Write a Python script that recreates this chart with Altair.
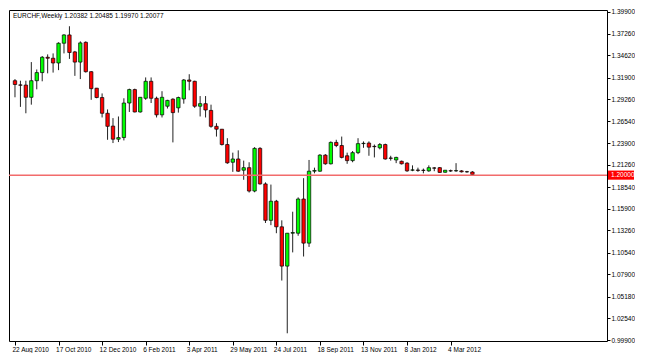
import altair as alt
import pandas as pd

title_text = "EURCHF,Weekly  1.20382 1.20485 1.19970 1.20077"

week_labels = ["22 Aug 2010", "17 Oct 2010", "12 Dec 2010", "6 Feb 2011", "3 Apr 2011",
               "29 May 2011", "24 Jul 2011", "18 Sep 2011", "13 Nov 2011", "8 Jan 2012",
               "4 Mar 2012"]

y_ticks = [1.399, 1.3726, 1.3462, 1.319, 1.2926, 1.2654, 1.239, 1.2126, 1.1854,
           1.159, 1.1326, 1.1054, 1.079, 1.0518, 1.0254, 0.999]

floor_level = 1.2
floor_label = "1.20000"

opens = [1.3151, 1.3100, 1.3098, 1.2949, 1.3151, 1.3250, 1.3437, 1.3425, 1.3367, 1.3608,
         1.3709, 1.3502, 1.3378, 1.3619, 1.3261, 1.3060, 1.2946, 1.2754, 1.2598, 1.2438,
         1.2458, 1.2879, 1.3043, 1.2770, 1.2937, 1.3144, 1.2937, 1.2735, 1.2840, 1.2926,
         1.2820, 1.2929, 1.3160, 1.3144, 1.2840, 1.2871, 1.2789, 1.2595, 1.2560, 1.2373,
         1.2157, 1.2197, 1.2060, 1.2091, 1.1806, 1.2326, 1.1893, 1.1449, 1.1682, 1.1370,
         1.0891, 1.1292, 1.1292, 1.1709, 1.1171, 1.2048, 1.2048, 1.2244, 1.2138, 1.2399,
         1.2361, 1.2236, 1.2177, 1.2274, 1.2384, 1.2391, 1.2351, 1.2333, 1.2373, 1.2209,
         1.2185, 1.2169, 1.2146, 1.2060, 1.2062, 1.2060, 1.2052, 1.2088, 1.2091, 1.2035,
         1.2054, 1.2052, 1.2052, 1.2042, 1.20382]
highs = [1.3171, 1.3151, 1.3151, 1.3378, 1.3288, 1.3452, 1.3472, 1.3484, 1.3619, 1.3718,
         1.3815, 1.3514, 1.3631, 1.3631, 1.3268, 1.3063, 1.2996, 1.2801, 1.2695, 1.2715,
         1.2937, 1.3054, 1.3054, 1.2952, 1.3191, 1.3191, 1.2957, 1.3023, 1.2918, 1.2937,
         1.2957, 1.3171, 1.3230, 1.3151, 1.2964, 1.2964, 1.2859, 1.2633, 1.2562, 1.2450,
         1.2274, 1.2302, 1.2177, 1.2157, 1.2341, 1.2341, 1.1912, 1.1885, 1.1698, 1.1449,
         1.1295, 1.1554, 1.1729, 1.1963, 1.2185, 1.2091, 1.2256, 1.2256, 1.2411, 1.2431,
         1.2470, 1.2274, 1.2294, 1.2450, 1.2411, 1.2411, 1.2373, 1.2391, 1.2384, 1.2236,
         1.2224, 1.2177, 1.2157, 1.2119, 1.2091, 1.2080, 1.2119, 1.2098, 1.2098, 1.2062,
         1.2067, 1.2146, 1.2060, 1.2052, 1.20485]
lows = [1.2949, 1.2832, 1.2754, 1.2859, 1.3046, 1.3144, 1.3241, 1.3250, 1.3280, 1.3484,
        1.3417, 1.3210, 1.3171, 1.3250, 1.2918, 1.2937, 1.2703, 1.2431, 1.2391, 1.2403,
        1.2423, 1.2770, 1.2765, 1.2762, 1.2918, 1.2879, 1.2703, 1.2703, 1.2812, 1.2399,
        1.2762, 1.2871, 1.3034, 1.2820, 1.2715, 1.2703, 1.2578, 1.2470, 1.2361, 1.2138,
        1.2040, 1.2040, 1.1943, 1.1788, 1.1791, 1.1885, 1.1417, 1.1390, 1.1292, 1.0715,
        1.0072, 1.1058, 1.1261, 1.1008, 1.1125, 1.2022, 1.2040, 1.2127, 1.2130, 1.2341,
        1.2204, 1.2138, 1.2157, 1.2256, 1.2333, 1.2236, 1.2216, 1.2314, 1.2189, 1.2177,
        1.2146, 1.2130, 1.2040, 1.2048, 1.2040, 1.2022, 1.2040, 1.2048, 1.2029, 1.2030,
        1.2040, 1.2040, 1.2033, 1.2029, 1.1997]
closes = [1.3105, 1.3096, 1.2949, 1.3151, 1.3250, 1.3437, 1.3425, 1.3367, 1.3608, 1.3709,
          1.3495, 1.3378, 1.3612, 1.3261, 1.3054, 1.2946, 1.2754, 1.2595, 1.2438, 1.2458,
          1.2879, 1.3043, 1.2770, 1.2949, 1.3144, 1.2937, 1.2735, 1.2949, 1.2911, 1.2762,
          1.2946, 1.3160, 1.3144, 1.2840, 1.2871, 1.2794, 1.2595, 1.2560, 1.2373, 1.2150,
          1.2197, 1.2048, 1.2091, 1.1806, 1.2326, 1.1893, 1.1449, 1.1682, 1.1370, 1.0891,
          1.1292, 1.1300, 1.1709, 1.1171, 1.2048, 1.2057, 1.2244, 1.2138, 1.2399, 1.2361,
          1.2216, 1.2177, 1.2274, 1.2384, 1.2388, 1.2341, 1.2347, 1.2373, 1.2197, 1.2205,
          1.2216, 1.2138, 1.2052, 1.2064, 1.2058, 1.2057, 1.2091, 1.2085, 1.2033, 1.2060,
          1.2050, 1.2055, 1.2040, 1.2040, 1.20077]

df = pd.DataFrame({
    "i": list(range(len(opens))),
    "open": opens, "high": highs, "low": lows, "close": closes,
})
df["dir"] = ["up" if c >= o else "down" for o, c in zip(opens, closes)]

W = 598
H = 331

label_array = "[" + ",".join("'" + s + "'" for s in week_labels) + "]"

x_scale = alt.Scale(domain=[-0.18, 107.8], nice=False, zero=False)
y_scale = alt.Scale(domain=[0.9978, 1.4013], nice=False, zero=False)

x_axis = alt.Axis(values=list(range(0, 81, 8)), labelExpr=label_array + "[round(datum.value/8)]",
                  title=None, grid=False, domain=False, ticks=True, tickSize=4, tickColor="#000",
                  labelAlign="left", labelBaseline="top", labelPadding=1, labelFlush=False,
                  labelOffset=-3,
                  labelOverlap=False, labelFont="Liberation Sans", labelFontSize=6.5,
                  labelColor="#000")
y_axis = alt.Axis(orient="right", values=y_ticks, format=".5f", title=None, grid=False,
                  domain=False, tickSize=3, tickColor="#000", labelPadding=1,
                  labelFont="Liberation Sans", labelFontSize=6.5, labelColor="#000",
                  labelOverlap=False, labelFlush=False)

base = alt.Chart(df)

wicks = base.mark_rule(color="#222", strokeWidth=1).encode(
    x=alt.X("i:Q", scale=x_scale, axis=x_axis),
    y=alt.Y("low:Q", scale=y_scale, axis=y_axis),
    y2="high:Q",
)

bodies = base.mark_bar(size=3.4, stroke="#000", strokeWidth=0.7).encode(
    x=alt.X("i:Q", scale=x_scale, axis=x_axis),
    y=alt.Y("open:Q", scale=y_scale, axis=y_axis),
    y2="close:Q",
    fill=alt.Fill("dir:N", scale=alt.Scale(domain=["up", "down"], range=["#00ff00", "#ff0000"]),
                  legend=None),
)

level_df = pd.DataFrame({"level": [floor_level], "label": [floor_label]})

level_line = alt.Chart(level_df).mark_rule(color="#f26b6b", strokeWidth=1.5).encode(
    y=alt.Y("level:Q", scale=y_scale, axis=y_axis),
)

level_box = alt.Chart(level_df).mark_point(
    shape="M-1,-0.35L1,-0.35L1,0.35L-1,0.35Z", size=676, filled=True, fill="#ff0000",
    opacity=1
).encode(
    x=alt.value(W + 14),
    y=alt.Y("level:Q", scale=y_scale, axis=y_axis),
)

level_text = alt.Chart(level_df).mark_text(
    align="left", baseline="middle", font="Liberation Sans", fontSize=6.5, color="#ffffff"
).encode(
    x=alt.value(W + 4),
    y=alt.Y("level:Q", scale=y_scale, axis=y_axis),
    text="label:N",
)

title_df = pd.DataFrame({"t": [title_text]})
title = alt.Chart(title_df).mark_text(
    align="left", baseline="middle", font="Liberation Sans", fontSize=6.5, color="#000"
).encode(
    x=alt.value(4),
    y=alt.value(5.5),
    text="t:N",
)

chart = alt.layer(wicks, bodies, level_line, level_box, level_text, title).properties(
    width=W, height=H, padding={"left": 0, "top": 0, "right": 0, "bottom": 0},
    background="#ffffff",
).configure_view(stroke="#000", strokeWidth=1)

chart.save("out.html", embed_options={"renderer": "svg", "actions": False})
